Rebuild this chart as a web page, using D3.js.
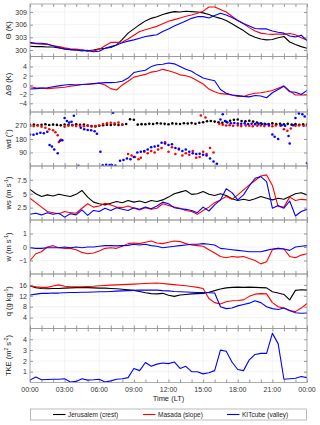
<!DOCTYPE html>
<html>
<head>
<meta charset="utf-8">
<script src="https://cdn.jsdelivr.net/npm/d3@7"></script>
<style>
  body { margin: 0; background: #fff; }
  svg { display: block; font-family: "Liberation Sans", Arial, sans-serif; }
  .grid line { stroke: #ebebeb; stroke-width: 0.6; }
  .tickMark line { stroke: #555; stroke-width: 0.6; }
  .tickMark path { display: none; }
  .tickMark text { fill: #333; font-size: 7px; }
  .frame { fill: none; stroke: #9a9a9a; stroke-width: 0.8; }
  .yTitle { fill: #222; font-size: 7.5px; }
  .legendText { fill: #222; font-size: 6.5px; }
</style>
</head>
<body>
<svg id="chart" width="320" height="425"></svg>
<script>

/*************
***** DATA *****
*************/

// half-hourly time stamps (hours, local time)
const hours = d3.range(0, 24.01, 0.5);
// 20-minute stamps for the Jerusalem wind direction dots
const hours20 = d3.range(0, 24.01, 1 / 3);

const stations = ["Jerusalem (crest)", "Masada (slope)", "KITcube (valley)"];

// potential temperature (K)
const thetaJer = [300.9,300.8,300.8,300.7,300.7,300.5,300.3,300.1,300.0,300.0,299.8,300.0,300.3,300.4,300.6,301.2,302.5,304.0,305.0,306.0,306.9,307.5,307.9,308.4,308.8,309.1,309.0,309.2,309.1,309.0,308.8,308.4,307.9,307.5,307.0,306.2,305.4,304.6,303.6,303.0,302.6,302.4,302.5,302.9,303.2,301.9,301.3,300.8,300.4];
const thetaMas = [301.6,301.5,301.4,301.3,301.0,300.8,300.5,300.3,300.2,300.0,299.8,299.8,300.1,301.0,301.8,301.8,301.9,302.6,303.5,304.4,304.8,305.2,305.6,306.2,306.8,307.2,307.6,308.0,308.3,308.7,309.2,310.2,310.2,309.6,309.0,308.0,307.0,306.2,305.3,304.5,304.0,303.8,303.7,303.8,303.7,303.9,303.6,302.9,302.4];
const thetaKit = [301.8,301.6,301.6,301.4,301.0,300.6,300.2,300.1,300.0,299.8,299.9,299.6,299.7,300.4,300.8,301.2,301.7,302.1,302.4,302.8,303.2,303.4,303.6,304.4,305.0,305.7,306.3,306.9,307.5,307.9,307.9,307.6,308.2,308.7,308.3,307.7,307.0,306.3,305.7,305.1,305.0,305.0,304.5,304.2,304.0,303.3,303.1,303.5,302.2];

// potential temperature difference to Jerusalem (K)
const dThetaMas = [-0.4,-0.6,-0.7,-0.8,-0.7,-0.6,-0.5,-0.3,-0.1,0.1,0.1,0.2,0.4,0.0,-0.8,-1.1,0.0,0.8,1.7,2.0,2.3,2.8,3.0,3.4,3.1,2.7,2.2,2.0,1.6,0.9,0.2,-0.9,-1.5,-1.9,-2.0,-2.2,-2.5,-2.5,-2.1,-1.8,-1.7,-1.5,-1.2,-0.7,-0.2,-1.3,-2.2,-2.2,-2.2];
const dThetaKit = [-0.9,-0.8,-0.7,-0.6,-0.4,-0.2,0.0,0.1,0.0,0.1,0.2,0.3,0.4,0.5,0.5,0.6,0.8,1.5,2.7,3.0,3.2,4.0,4.4,4.5,4.8,4.6,4.0,3.4,3.0,2.2,1.5,1.2,0.9,-1.0,-1.8,-2.2,-2.3,-2.5,-2.6,-2.3,-2.4,-2.8,-1.7,-1.0,-0.3,-1.5,-1.6,-2.1,-1.2];

// wind direction (deg)
const wdJer = [274,276,272,275,278,273,276,274,271,277,275,273,278,274,276,270,266,264,268,272,275,273,277,274,276,280,312,308,276,279,278,282,280,285,283,281,278,284,282,280,285,283,286,282,288,292,298,300,296,292,288,295,302,308,310,300,298,302,296,290,285,282,280,284,279,282,278,281,276,279,275,278,276];
const wdMas = [[0,268],[0.33,266],[0.67,270],[1,262],[1.33,255],[1.67,245],[2,238],[2.2,225],[2.4,205],[2.5,160],[2.67,175],[3,262],[3.33,268],[3.67,270],[4,266],[4.33,268],[4.67,265],[5,268],[5.33,263],[5.67,266],[6,270],[6.33,280],[6.67,285],[7,288],[7.33,284],[7.67,290],[8,275],
  [8.5,80],[8.8,70],[9.1,60],[9.4,45],[9.6,55],[9.9,95],[10.2,85],[10.5,100],[10.8,90],[11.1,110],[11.4,120],[11.7,158],[12,95],[12.3,125],[12.6,80],[12.9,110],[13.2,70],[13.5,85],[13.8,75],[14.1,100],[14.4,55],[14.7,60],[14.8,337],[15,95],[15.2,323],[15.3,80],[15.6,120],[15.9,90],
  [16.4,282],[16.7,275],[17,270],[17.3,272],[17.6,268],[18,270],[18.3,266],[18.7,270],[19,268],[19.3,265],[19.7,268],[20,270],[20.3,266],[20.7,268],[21,265],[21.3,270],[21.7,268],[22,245],[22.3,235],[22.6,250],[23,268],[23.3,270],[23.7,268],[24,270]];
const wdKit = [[0,210],[0.3,208],[0.6,215],[0.9,222],[1.2,218],[1.5,228],[1.7,140],[1.9,130],[2.1,110],[2.4,85],[2.6,168],[2.8,172],[3.0,320],[3.2,300],[3.4,290],[3.6,295],[3.8,335],[4.2,2],[4.4,255],[4.7,245],[5.0,240],[5.3,238],[5.6,232],[5.8,215],[6.1,95],[6.3,5],[6.6,8],[6.9,6],[7.1,4],[7.2,355],[7.4,3],[7.8,35],[8.1,40],[8.4,50],[8.7,45],[9.0,60],[9.3,90],[9.6,95],[9.9,100],[10.2,110],[10.5,125],[10.8,130],[11.1,135],[11.4,155],[11.7,150],[12.0,140],[12.3,145],[12.6,120],[12.9,115],[13.2,100],[13.5,110],[13.8,95],[14.1,85],[14.4,80],[14.7,82],[15.0,75],[15.3,70],[15.6,50],[15.9,30],[16.2,15],[16.5,310],[16.7,345],[16.9,300],[17.1,290],[17.4,285],[17.7,287],[18.0,283],[18.3,282],[18.6,284],[18.9,280],[19.2,282],[19.5,279],[19.8,281],[20.1,280],[20.4,278],[20.7,276],[21.0,210],[21.2,195],[21.5,180],[21.8,272],[22.1,268],[22.4,200],[22.5,150],[22.8,272],[23.0,320],[23.3,350],[23.6,345],[23.8,330],[24,20]];

// wind speed (m/s)
const wsJer = [5.8,5.0,4.5,4.8,4.6,4.9,4.7,4.5,4.9,5.6,4.4,3.5,3.2,3.0,3.3,3.6,3.4,3.8,3.5,3.7,3.4,3.8,3.6,3.9,4.4,5.0,5.3,5.6,4.9,5.0,5.4,4.9,4.7,5.0,4.7,4.1,3.8,4.0,3.8,4.1,4.5,4.2,3.9,4.2,4.0,4.5,5.0,5.2,4.8];
const wsMas = [4.2,3.4,2.6,1.8,1.6,1.4,1.8,1.6,1.5,2.4,3.2,2.6,2.8,3.3,3.0,2.6,2.5,2.8,2.4,2.1,2.5,2.2,2.4,3.2,2.9,2.6,2.4,2.0,1.8,1.3,2.0,2.6,3.4,3.9,4.5,4.0,4.8,5.7,6.6,7.4,8.2,8.4,6.5,2.7,2.6,4.4,3.8,4.0,3.9];
const wsKit = [1.3,1.5,1.2,1.6,1.3,1.5,0.8,1.4,1.2,2.1,1.1,2.0,1.8,2.4,2.0,2.5,2.2,2.0,2.5,2.2,2.6,2.3,2.8,3.5,3.2,2.5,2.3,2.2,2.0,1.6,2.6,1.9,3.0,3.9,5.9,5.2,3.9,4.8,6.4,7.8,8.1,7.2,2.4,2.9,2.4,3.7,1.0,1.8,2.2];

// vertical wind (m/s)
const wMas = [-1.0,-0.5,-0.35,0.0,0.1,-0.05,-0.1,-0.1,-0.2,-0.4,-0.5,-0.45,-0.3,-0.1,-0.05,-0.1,0.05,0.25,0.3,0.25,0.35,0.45,0.3,0.25,0.35,0.45,0.4,0.25,0.15,0.1,0.05,-0.2,-0.45,-0.7,-0.8,-0.7,-0.75,-0.7,-0.85,-1.0,-1.25,-1.1,-0.2,-0.1,-0.15,-0.7,-0.8,-0.6,-0.5];
const wKit = [-0.05,-0.1,-0.1,-0.05,-0.05,-0.05,0.0,-0.05,0.0,-0.05,0.0,0.0,0.05,0.1,0.1,0.08,0.1,0.12,0.2,0.15,0.2,0.1,0.05,-0.05,0.0,0.05,0.1,0.15,0.2,0.2,0.25,0.2,0.15,-0.1,-0.15,-0.2,-0.25,-0.3,-0.35,-0.35,-0.35,-0.25,-0.15,-0.1,-0.15,-0.25,0.0,0.05,0.1];

// specific humidity (g/kg)
const qJer = [15.6,15.0,14.7,14.6,14.7,14.7,14.8,14.9,15.0,15.0,15.0,14.9,14.8,14.8,14.7,14.6,14.4,14.2,14.0,13.6,13.1,12.8,12.7,12.9,12.2,11.8,12.3,12.5,12.7,12.8,12.9,13.3,13.9,14.5,14.9,15.1,15.2,15.1,15.2,15.1,15.0,14.9,13.5,13.0,12.5,10.5,14.0,14.2,14.1];
const qMas = [15.6,15.3,15.1,15.1,15.6,16.0,15.5,15.3,15.3,15.3,15.4,15.5,15.7,15.8,15.9,16.0,16.1,16.2,16.3,16.4,16.5,16.6,16.7,16.5,16.3,16.1,15.9,15.7,15.4,15.1,14.7,11.0,9.5,9.0,9.8,10.2,10.3,10.5,11.8,12.6,12.8,12.7,9.5,8.0,7.5,6.5,6.2,7.5,9.2];
const qKit = [12.3,12.6,12.9,12.9,13.0,13.0,13.1,13.2,13.2,13.3,13.3,13.4,13.5,13.5,13.6,13.7,13.8,13.9,14.0,14.1,14.1,14.1,14.1,13.9,13.8,13.6,13.5,13.4,13.3,13.2,13.2,13.1,13.0,8.0,7.3,7.5,8.3,8.8,9.3,10.2,9.5,8.0,7.3,7.0,7.5,6.6,5.8,5.6,5.7];

// turbulent kinetic energy (m2/s2), KITcube only
const tkeKit = [0.23,0.5,0.25,0.28,0.3,0.3,0.35,0.05,0.1,0.35,0.22,0.25,0.3,0.05,0.15,0.3,0.35,0.45,1.3,1.1,1.85,1.5,1.7,1.8,1.75,1.9,1.3,1.5,1.0,1.0,0.8,0.9,1.1,3.0,2.9,1.9,1.2,1.1,2.1,2.6,2.7,2.7,4.55,3.6,0.3,0.35,0.4,0.55,0.45];

// axis ticks
const xTickLabels = ["00:00","03:00","06:00","09:00","12:00","15:00","18:00","21:00","00:00"];

/********************
***** BASIC SETUP *****
********************/

const svg = d3.select("#chart");
const left = 30, right = 307;
const colors = ["#000000", "#ff0000", "#0000ff"];

const xScale = d3.scaleLinear().domain([0, 24]).range([left, right]);

const zip = (xs, ys) => xs.map((h, i) => [h, ys[i]]);

// panel definitions: top, bottom, y domain, ticks, y title pieces (text, superscript?)
const panels = [
  {top: 4,     bottom: 56.5,  domain: [298.46, 310.9], ticks: [300, 303, 306, 309],
   title: [["Θ (K)", 0]],
   lines: [[zip(hours, thetaJer), 0], [zip(hours, thetaMas), 1], [zip(hours, thetaKit), 2]]},
  {top: 56.5,  bottom: 112,   domain: [-5.9, 6.2], ticks: [-4, -2, 0, 2, 4],
   title: [["ΔΘ (K)", 0]],
   lines: [[zip(hours, dThetaMas), 1], [zip(hours, dThetaKit), 2]]},
  {top: 112,   bottom: 166,   domain: [0, 360], ticks: [90, 180, 270],
   title: [["wd (°)", 0]],
   dots: [[zip(hours20, wdJer), 0], [wdMas, 1], [wdKit, 2]]},
  {top: 166,   bottom: 220,   domain: [0.28, 10], ticks: [2.5, 5, 7.5],
   title: [["ws (m s", 0], ["-1", 1], [")", 0]],
   lines: [[zip(hours, wsJer), 0], [zip(hours, wsMas), 1], [zip(hours, wsKit), 2]]},
  {top: 220,   bottom: 274,   domain: [-2, 2], ticks: [-1, 0, 1],
   title: [["w (m s", 0], ["-1", 1], [")", 0]],
   lines: [[zip(hours, wMas), 1], [zip(hours, wKit), 2]]},
  {top: 274,   bottom: 328.5, domain: [0, 20], ticks: [4, 8, 12, 16],
   title: [["q (g kg", 0], ["-1", 1], [")", 0]],
   lines: [[zip(hours, qJer), 0], [zip(hours, qMas), 1], [zip(hours, qKit), 2]]},
  {top: 328.5, bottom: 382.5, domain: [0, 5], ticks: [1, 2, 3, 4],
   title: [["TKE (m", 0], ["2", 1], [" s", 0], ["-2", 1], [")", 0]],
   lines: [[zip(hours, tkeKit), 2]]}
];

const hourTicks = d3.range(0, 25, 1);
const gridHours = d3.range(0, 25, 3);

/***************
***** PANELS *****
***************/

panels.forEach((p, i) => {
  const yScale = d3.scaleLinear().domain(p.domain).range([p.bottom, p.top]);
  const g = svg.append("g").attr("class", "panel");

  g.append("clipPath").attr("id", "clip" + i)
    .append("rect")
    .attr("x", left).attr("y", p.top)
    .attr("width", right - left).attr("height", p.bottom - p.top);

  // gridlines
  g.append("g").attr("class", "grid")
    .selectAll("line.v").data(gridHours).enter().append("line")
    .attr("x1", d => xScale(d)).attr("x2", d => xScale(d))
    .attr("y1", p.top).attr("y2", p.bottom);
  g.append("g").attr("class", "grid")
    .selectAll("line.h").data(p.ticks).enter().append("line")
    .attr("x1", left).attr("x2", right)
    .attr("y1", d => yScale(d)).attr("y2", d => yScale(d));

  const plot = g.append("g").attr("clip-path", `url(#clip${i})`);

  // lines
  const line = d3.line().x(d => xScale(d[0])).y(d => yScale(d[1]));
  (p.lines || []).forEach(([pts, c]) => {
    plot.append("path")
      .datum(pts)
      .attr("d", line)
      .attr("fill", "none")
      .attr("stroke", colors[c])
      .attr("stroke-width", 1.1)
      .attr("stroke-linejoin", "round");
  });

  // dots
  (p.dots || []).forEach(([pts, c]) => {
    plot.selectAll(null).data(pts).enter().append("circle")
      .attr("cx", d => xScale(d[0]))
      .attr("cy", d => yScale(d[1]))
      .attr("r", 1.3)
      .attr("fill", colors[c]);
  });

  // ticks (inward) on all four sides
  g.append("g").attr("class", "tickMark")
    .attr("transform", `translate(0,${p.bottom})`)
    .call(d3.axisBottom(xScale).tickValues(hourTicks).tickSize(-3).tickFormat(""));
  g.append("g").attr("class", "tickMark")
    .attr("transform", `translate(0,${p.top})`)
    .call(d3.axisTop(xScale).tickValues(hourTicks).tickSize(-3).tickFormat(""));
  g.append("g").attr("class", "tickMark")
    .attr("transform", `translate(${left},0)`)
    .call(d3.axisLeft(yScale).tickValues(p.ticks).tickSize(-3).tickPadding(3)
      .tickFormat(d3.format("")));
  g.append("g").attr("class", "tickMark")
    .attr("transform", `translate(${right},0)`)
    .call(d3.axisRight(yScale).tickValues(p.ticks).tickSize(-3).tickFormat(""));

  // frame
  g.append("rect").attr("class", "frame")
    .attr("x", left).attr("y", p.top)
    .attr("width", right - left).attr("height", p.bottom - p.top);

  // y title, superscripts raised with dy and lowered again on the next piece
  const cy = (p.top + p.bottom) / 2;
  const t = g.append("text").attr("class", "yTitle")
    .attr("text-anchor", "middle")
    .attr("transform", `translate(11,${cy}) rotate(-90)`);
  let raised = false;
  p.title.forEach(([s, sup]) => {
    let dy = 0;
    if (sup && !raised) dy = -2.6;
    if (!sup && raised) dy = 2.6;
    raised = !!sup;
    t.append("tspan")
      .attr("dy", dy)
      .attr("font-size", sup ? "5px" : null)
      .text(s);
  });
});

/*******************
***** X LABELS *****
*******************/

const lastBottom = panels[panels.length - 1].bottom;

svg.append("g").selectAll(".xLab")
  .data(xTickLabels).enter().append("text")
  .attr("class", "xLab")
  .attr("x", (d, i) => xScale(gridHours[i]))
  .attr("y", lastBottom + 9.5)
  .attr("text-anchor", "middle")
  .attr("fill", "#333")
  .attr("font-size", "7px")
  .text(d => d);

svg.append("text")
  .attr("x", (left + right) / 2)
  .attr("y", lastBottom + 18)
  .attr("text-anchor", "middle")
  .attr("fill", "#222")
  .attr("font-size", "7.5px")
  .text("Time (LT)");

/***************
***** LEGEND *****
***************/

const legend = svg.append("g").attr("id", "legend");
legend.append("rect")
  .attr("x", 30.5).attr("y", 409)
  .attr("width", 276).attr("height", 11)
  .attr("fill", "#fff").attr("stroke", "#aaa").attr("stroke-width", 0.8);

const legendX = [53, 143, 227];
stations.forEach((s, i) => {
  legend.append("line")
    .attr("x1", legendX[i]).attr("x2", legendX[i] + 12.5)
    .attr("y1", 414.5).attr("y2", 414.5)
    .attr("stroke", colors[i]).attr("stroke-width", 1.1);
  legend.append("text").attr("class", "legendText")
    .attr("x", legendX[i] + 15).attr("y", 416.8)
    .text(s);
});
</script>
</body>
</html>
